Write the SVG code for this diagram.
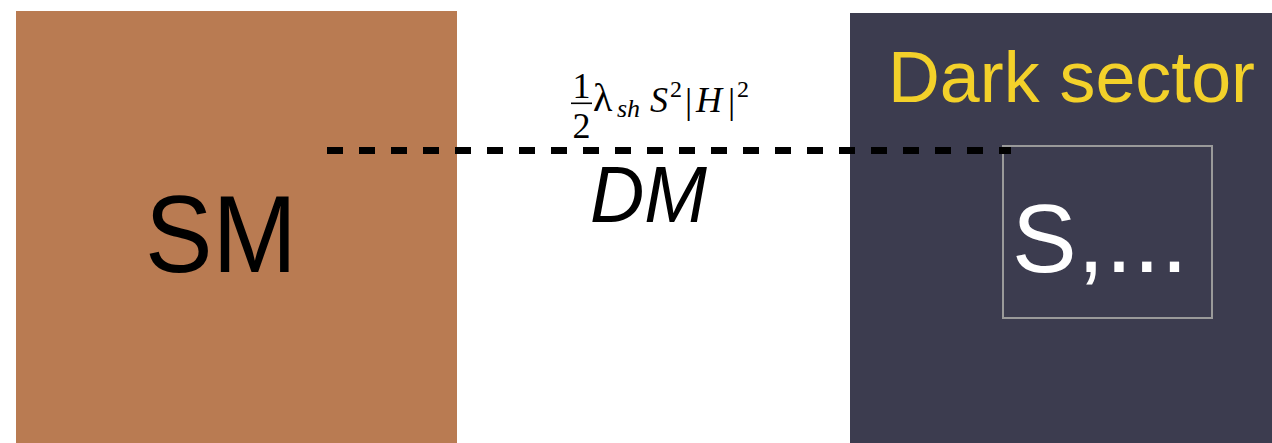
<svg xmlns="http://www.w3.org/2000/svg" width="1272" height="443" viewBox="0 0 1272 443">
<style>
.sans{font-family:"Liberation Sans",Arial,sans-serif}
.math{font-family:"Liberation Serif","DejaVu Serif",serif}
</style>
<rect width="1272" height="443" fill="#ffffff"/>
<g id="sm">
<rect x="16" y="11" width="441" height="432" fill="#B97B52"/>
<text class="sans" x="145" y="272" font-size="110" textLength="152" lengthAdjust="spacingAndGlyphs" fill="#000">SM</text>
</g>
<g id="dark-sector">
<rect x="850" y="13" width="422" height="430" fill="#3C3C4F"/>
<text class="sans" x="888" y="102" font-size="72" textLength="367" lengthAdjust="spacingAndGlyphs" fill="#F3D12A">Dark sector</text>
</g>
<g id="s-box">
<rect x="1003" y="146" width="209" height="172" fill="none" stroke="#9A9A9A" stroke-width="2"/>
<text class="sans" x="1012" y="272" font-size="97" textLength="176" lengthAdjust="spacing" fill="#ffffff">S,...</text>
</g>
<g id="connectors">
<line x1="327" y1="150.5" x2="1011" y2="150.5" stroke="#000" stroke-width="7" stroke-dasharray="16 16"/>
<g class="math" fill="#000">
<text x="581.5" y="98" font-size="36" text-anchor="middle">1</text>
<rect x="571" y="102.5" width="21" height="1.6"/>
<text x="581.5" y="138" font-size="36" text-anchor="middle">2</text>
<text x="593" y="111" font-size="40">λ</text>
<text x="617" y="117" font-size="26" font-style="italic">sh</text>
<text x="650" y="112" font-size="36" font-style="italic">S</text>
<text x="670" y="97" font-size="24">2</text>
<text x="685" y="113" font-size="36">|</text>
<text x="696" y="112" font-size="36" font-style="italic">H</text>
<text x="728" y="113" font-size="36">|</text>
<text x="737" y="97" font-size="24">2</text>
</g>
<text class="sans" x="590" y="222" font-size="80" font-style="italic" textLength="117" lengthAdjust="spacingAndGlyphs" fill="#000">DM</text>
</g>
</svg>
